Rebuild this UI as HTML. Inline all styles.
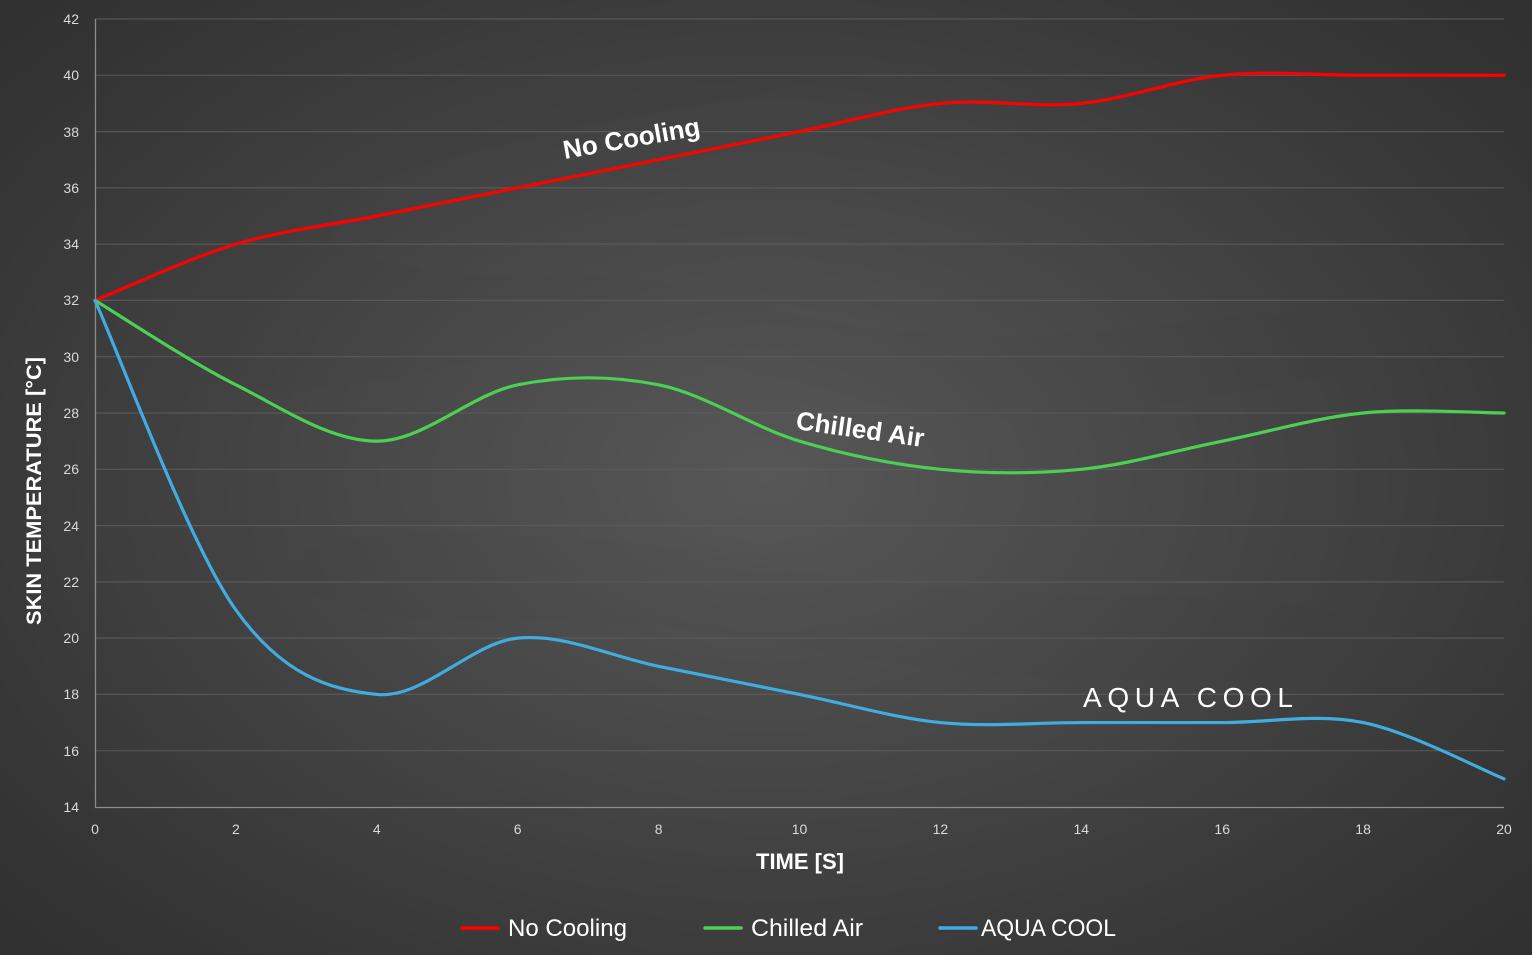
<!DOCTYPE html>
<html>
<head>
<meta charset="utf-8">
<style>
  html,body{margin:0;padding:0;}
  body{width:1532px;height:955px;overflow:hidden;
    background:radial-gradient(ellipse 80% 85% at 50% 50%, #575757 0%, #474747 35%, #363636 70%, #2a2a2a 100%);
    font-family:"Liberation Sans", sans-serif;}
  svg{position:absolute;left:0;top:0;}
</style>
</head>
<body>
<svg width="1532" height="955" viewBox="0 0 1532 955" xmlns="http://www.w3.org/2000/svg">
  <defs>
    <filter id="sh" x="-5%" y="-5%" width="110%" height="120%">
      <feDropShadow dx="0" dy="3" stdDeviation="2" flood-color="#000" flood-opacity="0.35"/>
    </filter>
  </defs>
  <!-- gridlines -->
  <g stroke="#5e5e5e" stroke-width="1.2" opacity="0.8">
    <line x1="95" x2="1504" y1="19" y2="19"/>
    <line x1="95" x2="1504" y1="75.3" y2="75.3"/>
    <line x1="95" x2="1504" y1="131.6" y2="131.6"/>
    <line x1="95" x2="1504" y1="187.9" y2="187.9"/>
    <line x1="95" x2="1504" y1="244.1" y2="244.1"/>
    <line x1="95" x2="1504" y1="300.4" y2="300.4"/>
    <line x1="95" x2="1504" y1="356.7" y2="356.7"/>
    <line x1="95" x2="1504" y1="413.0" y2="413.0"/>
    <line x1="95" x2="1504" y1="469.3" y2="469.3"/>
    <line x1="95" x2="1504" y1="525.6" y2="525.6"/>
    <line x1="95" x2="1504" y1="581.9" y2="581.9"/>
    <line x1="95" x2="1504" y1="638.1" y2="638.1"/>
    <line x1="95" x2="1504" y1="694.4" y2="694.4"/>
    <line x1="95" x2="1504" y1="750.7" y2="750.7"/>
  </g>
  <!-- axes -->
  <g stroke="#8c8c8c" stroke-width="1.3">
    <line x1="95.5" x2="95.5" y1="19" y2="807"/>
    <line x1="95" x2="1504" y1="807.5" y2="807.5"/>
  </g>
  <!-- y tick labels -->
  <g fill="#d9d9d9" font-size="14" text-anchor="end" font-family="Liberation Sans, sans-serif">
    <text x="79" y="24">42</text>
    <text x="79" y="80">40</text>
    <text x="79" y="137">38</text>
    <text x="79" y="193">36</text>
    <text x="79" y="249">34</text>
    <text x="79" y="305">32</text>
    <text x="79" y="362">30</text>
    <text x="79" y="418">28</text>
    <text x="79" y="474">26</text>
    <text x="79" y="531">24</text>
    <text x="79" y="587">22</text>
    <text x="79" y="643">20</text>
    <text x="79" y="699">18</text>
    <text x="79" y="756">16</text>
    <text x="79" y="812">14</text>
  </g>
  <!-- x tick labels -->
  <g fill="#d9d9d9" font-size="14" text-anchor="middle" font-family="Liberation Sans, sans-serif">
    <text x="95" y="834">0</text>
    <text x="235.9" y="834">2</text>
    <text x="376.8" y="834">4</text>
    <text x="517.7" y="834">6</text>
    <text x="658.6" y="834">8</text>
    <text x="799.5" y="834">10</text>
    <text x="940.4" y="834">12</text>
    <text x="1081.3" y="834">14</text>
    <text x="1222.2" y="834">16</text>
    <text x="1363.1" y="834">18</text>
    <text x="1504" y="834">20</text>
  </g>
  <!-- axis titles -->
  <text x="800" y="869" fill="#ffffff" font-size="22" font-weight="bold" text-anchor="middle">TIME [S]</text>
  <text transform="translate(41,625) rotate(-90)" fill="#ffffff" font-size="21" font-weight="bold" textLength="268" lengthAdjust="spacingAndGlyphs">SKIN TEMPERATURE [°C]</text>

  <!-- series -->
  <g transform="matrix(70.45,0,0,-28.143,95,1201.0)" fill="none" stroke-width="3.2" stroke-linecap="round" stroke-linejoin="round" filter="url(#sh)">
    <path vector-effect="non-scaling-stroke" stroke="#ff0000" d="M0,32 C0.333,32.333 1.333,33.5 2,34 C2.667,34.5 3.333,34.667 4,35 C4.667,35.333 5.333,35.667 6,36 C6.667,36.333 7.333,36.667 8,37 C8.667,37.333 9.333,37.667 10,38 C10.667,38.333 11.333,38.833 12,39 C12.667,39.167 13.333,38.833 14,39 C14.667,39.167 15.333,39.833 16,40 C16.667,40.167 17.333,40 18,40 C18.667,40 19.667,40 20,40"/>
    <path vector-effect="non-scaling-stroke" stroke="#4cd053" d="M0,32 C0.333,31.5 1.333,29.833 2,29 C2.667,28.167 3.333,27 4,27 C4.667,27 5.333,28.667 6,29 C6.667,29.333 7.333,29.333 8,29 C8.667,28.667 9.333,27.5 10,27 C10.667,26.5 11.333,26.167 12,26 C12.667,25.833 13.333,25.833 14,26 C14.667,26.167 15.333,26.667 16,27 C16.667,27.333 17.333,27.833 18,28 C18.667,28.167 19.667,28 20,28"/>
    <path vector-effect="non-scaling-stroke" stroke="#41acdf" d="M0,32 C0.333,30.167 1.333,23.333 2,21 C2.667,18.667 3.333,18.167 4,18 C4.667,17.833 5.333,19.833 6,20 C6.667,20.167 7.333,19.333 8,19 C8.667,18.667 9.333,18.333 10,18 C10.667,17.667 11.333,17.167 12,17 C12.667,16.833 13.333,17 14,17 C14.667,17 15.333,17 16,17 C16.667,17 17.333,17.333 18,17 C18.667,16.667 19.667,15.333 20,15"/>
  </g>

  <!-- in-chart labels -->
  <text transform="translate(633,147) rotate(-10)" fill="#ffffff" font-size="26" font-weight="bold" text-anchor="middle">No Cooling</text>
  <text transform="translate(859,438) rotate(8)" fill="#ffffff" font-size="26" font-weight="bold" text-anchor="middle">Chilled Air</text>
  <text x="1083" y="707" fill="#ffffff" font-size="28" textLength="210" lengthAdjust="spacing">AQUA COOL</text>

  <!-- legend -->
  <g stroke-width="3.5" stroke-linecap="round">
    <line x1="462" x2="498" y1="928" y2="928" stroke="#ff0000"/>
    <line x1="705" x2="741" y1="928" y2="928" stroke="#4cd053"/>
    <line x1="940" x2="976" y1="928" y2="928" stroke="#41acdf"/>
  </g>
  <g fill="#ffffff" font-size="24">
    <text x="508" y="936" textLength="119" lengthAdjust="spacingAndGlyphs">No Cooling</text>
    <text x="751" y="936" textLength="112" lengthAdjust="spacingAndGlyphs">Chilled Air</text>
    <text x="981" y="936" textLength="135" lengthAdjust="spacingAndGlyphs">AQUA COOL</text>
  </g>
</svg>
</body>
</html>
